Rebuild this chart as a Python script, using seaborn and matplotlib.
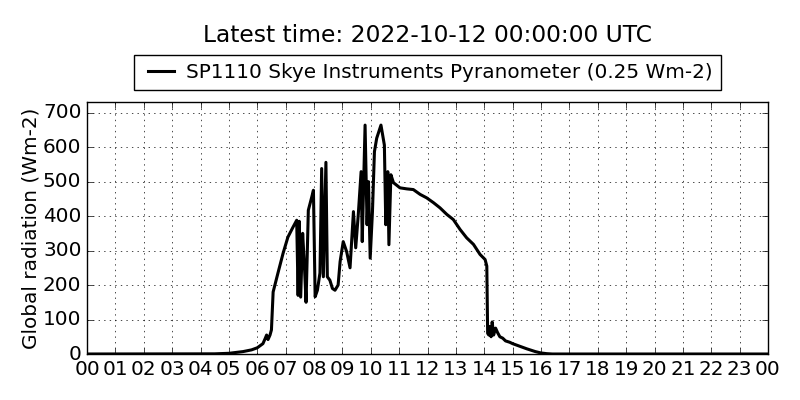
import matplotlib
matplotlib.use("Agg")
import matplotlib.pyplot as plt
import seaborn as sns
import pandas as pd

# time of day (hours UTC) and global radiation (Wm-2)
hours = [0.0, 4.5, 5.0, 5.5, 5.8, 6.0, 6.2, 6.28, 6.33, 6.38, 6.45, 6.5, 6.56,
         6.73, 6.91, 7.08, 7.26, 7.39, 7.44, 7.48, 7.53, 7.60, 7.66, 7.72, 7.80,
         7.92, 7.98, 8.04, 8.12, 8.21, 8.27, 8.33, 8.42, 8.47, 8.56, 8.65, 8.74,
         8.85, 8.92, 9.03, 9.15, 9.27, 9.39, 9.47, 9.56, 9.66, 9.70, 9.80, 9.87,
         9.92, 9.98, 10.06, 10.13, 10.21, 10.36, 10.48, 10.53, 10.60, 10.64,
         10.71, 10.80, 11.03, 11.27, 11.50, 11.74, 11.97, 12.21, 12.44, 12.68,
         12.91, 13.15, 13.38, 13.62, 13.85, 14.03, 14.09, 14.12, 14.16, 14.20,
         14.24, 14.28, 14.33, 14.40, 14.47, 14.55, 14.65, 14.75, 14.90, 15.00,
         15.30, 15.50, 15.80, 16.00, 16.20, 16.40, 24.0]
radiation = [0, 0.5, 2, 7, 12, 18, 30, 45, 55, 42, 55, 70, 180,
             235, 292, 339, 368, 388, 170, 385, 165, 350, 260, 150, 417,
             455, 475, 166, 185, 235, 538, 224, 556, 224, 214, 190, 185,
             200, 268, 326, 297, 250, 413, 308, 404, 529, 326, 664, 375,
             500, 278, 413, 587, 626, 664, 606, 375, 529, 317,
             520, 497, 482, 479, 477, 463, 453, 439, 424, 405,
             390, 361, 337, 318, 289, 274, 255, 60, 55, 80,
             50, 93, 55, 75, 62, 50, 46, 38, 34, 30,
             21, 15, 7, 3, 1, 0, 0]

tick_hours = list(range(25))
tick_labels = ["00", "01", "02", "03", "04", "05", "06", "07", "08", "09", "10",
               "11", "12", "13", "14", "15", "16", "17", "18", "19", "20", "21",
               "22", "23", "00"]

title = "Latest time: 2022-10-12 00:00:00 UTC"
series_name = "SP1110 Skye Instruments Pyranometer (0.25 Wm-2)"

plt.style.use("classic")
plt.rcParams["figure.facecolor"] = "white"
plt.rcParams["savefig.facecolor"] = "white"
plt.rcParams["font.family"] = ["DejaVu Sans"]

df = pd.DataFrame({"hour": hours, "rad": radiation})

fig, ax = plt.subplots(figsize=(8, 4), dpi=100)
fig.subplots_adjust(left=0.10875, right=0.96, top=0.745, bottom=0.115)

sns.lineplot(data=df, x="hour", y="rad", ax=ax, color="black", linewidth=2.2,
             estimator=None, label=series_name)

ax.set_xlim(0, 24)
ax.set_ylim(0, 731)
ax.set_xticks(tick_hours)
ax.set_xticklabels(tick_labels)
ax.set_yticks([0, 100, 200, 300, 400, 500, 600, 700])
ax.tick_params(labelsize=14.4, direction="in", top=True, right=True)
ax.grid(True, linestyle=":", color="black", linewidth=0.5)
ax.set_xlabel("")
ax.set_ylabel("Global radiation (Wm-2)", fontsize=14.4, labelpad=2)

leg = ax.legend(loc="lower center", bbox_to_anchor=(0.5, 1.048), fontsize=14.4,
                frameon=True, fancybox=False, handlelength=1.9,
                handletextpad=0.3, borderpad=0.4, borderaxespad=0)
leg.get_frame().set_edgecolor("black")

fig.suptitle(title, x=0.534, y=0.94, fontsize=16.8)

fig.savefig("out.png", dpi=100)
